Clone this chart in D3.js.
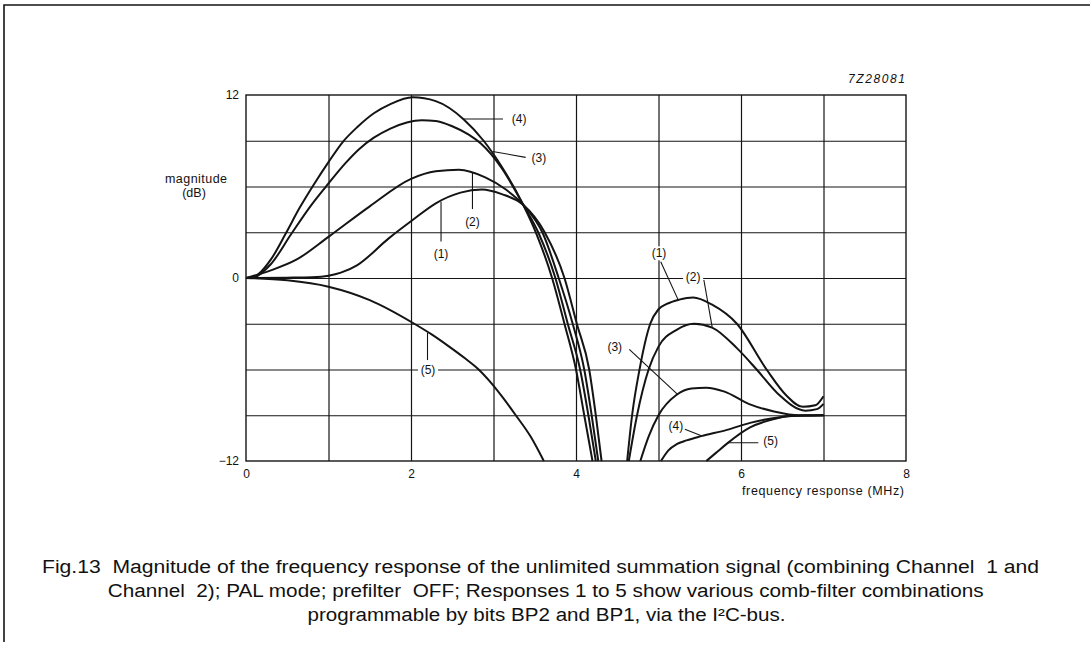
<!DOCTYPE html>
<html><head><meta charset="utf-8">
<script src="https://cdn.jsdelivr.net/npm/d3@7"></script>
<style>
html,body{margin:0;padding:0;background:#fff;}
svg{display:block;}
text{font-family:"Liberation Sans",Arial,Helvetica,sans-serif;fill:#111;white-space:pre;}
</style></head><body>
<svg id="chart" width="1090" height="654"></svg>
<script>
// ---------- data ----------
const xTickValues = [0, 2, 4, 6, 8];
const yTickValues = [12, 0, -12];
const xGridValues = [1, 2, 3, 4, 5, 6, 7];
const yGridValues = [-9, -6, -3, 0, 3, 6, 9];

// [frequency MHz, magnitude dB] — low-frequency lobe
const resp1Low = [[0,0],[0.5,0.02],[0.8,0.05],[1.0,0.15],[1.15,0.35],[1.35,0.85],[1.73,2.6],[2.02,3.8],[2.3,4.9],[2.6,5.6],[2.86,5.8],[3.1,5.5],[3.36,4.8],[3.62,3.0],[3.86,0],[4.01,-3],[4.16,-6],[4.24,-9],[4.31,-12]];
const resp2Low = [[0,0],[0.3,0.5],[0.61,1.2],[1.0,2.7],[1.5,4.7],[2.0,6.5],[2.3,7.0],[2.58,7.1],[2.9,6.6],[3.15,5.8],[3.36,4.8],[3.6,2.9],[3.79,0],[3.96,-3],[4.1,-6],[4.19,-9],[4.27,-12]];
const resp3Low = [[0,0],[0.1,0.05],[0.3,0.9],[0.55,2.9],[0.78,4.7],[1.0,6.2],[1.2,7.5],[1.37,8.45],[1.55,9.2],[1.75,9.8],[1.95,10.2],[2.13,10.35],[2.3,10.3],[2.5,9.95],[2.7,9.4],[2.85,8.8],[3.1,7.2],[3.36,4.8],[3.55,2.9],[3.75,0],[3.9,-3],[4.05,-6],[4.15,-9],[4.24,-12]];
const resp4Low = [[0,0],[0.1,0.08],[0.3,1.2],[0.48,2.9],[0.65,4.6],[0.83,6.2],[1.0,7.6],[1.17,8.9],[1.35,9.9],[1.55,10.8],[1.75,11.4],[2.02,11.85],[2.3,11.6],[2.64,10.4],[2.88,9.0],[3.1,7.3],[3.36,4.8],[3.52,2.9],[3.71,0],[3.86,-3],[4.0,-6],[4.1,-9],[4.2,-12]];
const resp5Low = [[0,0],[0.5,-0.15],[1.0,-0.57],[1.5,-1.45],[2.04,-3],[2.25,-3.7],[2.45,-4.45],[2.65,-5.25],[2.82,-6.0],[2.95,-6.75],[3.1,-7.75],[3.27,-9],[3.45,-10.4],[3.61,-12]];

// high-frequency lobe
const resp1High = [[4.62,-12],[4.68,-9],[4.77,-6],[4.9,-3],[5.0,-2.05],[5.1,-1.7],[5.25,-1.42],[5.42,-1.28],[5.65,-1.75],[5.95,-3],[6.31,-6],[6.55,-7.7],[6.75,-8.45],[6.9,-8.35],[7.0,-7.75]];
const resp2High = [[4.64,-12],[4.74,-9],[4.88,-6],[5.0,-4.5],[5.22,-3.4],[5.43,-3.0],[5.65,-3.25],[5.95,-4.6],[6.19,-6],[6.45,-7.6],[6.78,-8.7],[6.92,-8.6],[7.0,-8.25]];
const resp3High = [[4.78,-12],[4.88,-10.4],[5.0,-9],[5.22,-7.66],[5.4,-7.25],[5.58,-7.19],[5.8,-7.45],[6.1,-8.27],[6.4,-8.75],[6.7,-9.0],[7.0,-9.0]];
const resp4High = [[5.03,-12],[5.12,-11.3],[5.22,-10.9],[5.34,-10.65],[5.52,-10.37],[5.83,-9.96],[6.11,-9.5],[6.51,-9.1],[6.75,-9.02],[7.0,-9.0]];
const resp5High = [[5.58,-12],[5.7,-11.45],[5.83,-10.86],[6.11,-9.8],[6.4,-9.25],[6.6,-9.05],[7.0,-9.0]];

const curveSegments = [resp1Low, resp2Low, resp3Low, resp4Low, resp5Low,
                       resp1High, resp2High, resp3High, resp4High, resp5High];

// curve labels: text position and leader line, in data coordinates
const labelNames = ["(4)", "(3)", "(2)", "(1)", "(5)", "(1)", "(2)", "(3)", "(4)", "(5)"];
const labelAt = [[3.31,10.43],[3.55,7.91],[2.745,3.69],[2.364,1.57],[2.206,-5.99],
                 [5.006,1.62],[5.42,0.05],[4.47,-4.54],[5.21,-9.69],[6.36,-10.67]];
const leaderLines = [[[2.63,10.43],[3.115,10.43]],
                     [[2.99,8.3],[3.39,7.91]],
                     [[2.745,6.95],[2.745,4.52]],
                     [[2.364,5.0],[2.364,2.4]],
                     [[2.2,-3.6],[2.2,-5.38]],
                     [[5.027,1.07],[5.24,-1.45]],
                     [[5.55,-0.13],[5.65,-3.2]],
                     [[4.646,-4.68],[5.228,-7.62]],
                     [[5.32,-9.92],[5.52,-10.34]],
                     [[5.83,-10.8],[6.21,-10.8]]];

const captionLines = [
  "Fig.13  Magnitude of the frequency response of the unlimited summation signal (combining Channel  1 and",
  "Channel  2); PAL mode; prefilter  OFF; Responses 1 to 5 show various comb-filter combinations",
  "programmable by bits BP2 and BP1, via the I\u00B2C-bus."
];

// ---------- drawing ----------
const svg = d3.select("#chart");
const L = 246, R = 906, T = 95, B = 461;
const x = d3.scaleLinear().domain([0, 8]).range([L, R]);
const y = d3.scaleLinear().domain([-12, 12]).range([B, T]);
const ink = "#141414";

// outer frame (left and top edges)
svg.append("path").attr("d", "M4,642 L4,5 L1090,5")
  .attr("fill", "none").attr("stroke", ink).attr("stroke-width", 1.6);

// grid
const gx = svg.append("g").attr("transform", `translate(0,${B})`)
  .call(d3.axisBottom(x).tickValues(xGridValues).tickSize(-(B - T)).tickFormat(""));
gx.select(".domain").remove();
gx.selectAll("line").attr("stroke", ink).attr("stroke-width", 1.2);
const gy = svg.append("g").attr("transform", `translate(${L},0)`)
  .call(d3.axisLeft(y).tickValues(yGridValues).tickSize(-(R - L)).tickFormat(""));
gy.select(".domain").remove();
gy.selectAll("line").attr("stroke", ink).attr("stroke-width", 1.2);

// border
svg.append("rect").attr("x", L).attr("y", T).attr("width", R - L).attr("height", B - T)
  .attr("fill", "none").attr("stroke", ink).attr("stroke-width", 1.4);

// axes labels
const ax = svg.append("g").attr("transform", `translate(0,${B})`)
  .call(d3.axisBottom(x).tickValues(xTickValues).tickSize(0).tickPadding(8));
ax.select(".domain").remove();
ax.selectAll("text").attr("font-size", 12).attr("font-family", null).attr("fill", ink);
const ay = svg.append("g").attr("transform", `translate(${L},0)`)
  .call(d3.axisLeft(y).tickValues(yTickValues).tickSize(0).tickPadding(7));
ay.select(".domain").remove();
ay.selectAll("text").attr("font-size", 12).attr("font-family", null).attr("fill", ink);

// label backgrounds (interrupt grid lines)
labelAt.forEach((p) => {
  svg.append("rect").attr("x", x(p[0]) - 10).attr("y", y(p[1]) - 7)
    .attr("width", 20).attr("height", 14).attr("fill", "#fff");
});

// curves
const line = d3.line().x(d => x(d[0])).y(d => y(d[1])).curve(d3.curveMonotoneX);
svg.append("g").selectAll("path").data(curveSegments).join("path")
  .attr("d", line).attr("fill", "none").attr("stroke", ink)
  .attr("stroke-width", 2).attr("stroke-linejoin", "round");

// leaders
svg.append("g").selectAll("line").data(leaderLines).join("line")
  .attr("x1", d => x(d[0][0])).attr("y1", d => y(d[0][1]))
  .attr("x2", d => x(d[1][0])).attr("y2", d => y(d[1][1]))
  .attr("stroke", ink).attr("stroke-width", 1.1);

// label texts
svg.append("g").selectAll("text").data(labelAt).join("text")
  .attr("x", d => x(d[0])).attr("y", d => y(d[1])).attr("dy", "0.35em")
  .attr("text-anchor", "middle").attr("font-size", 12)
  .text((d, i) => labelNames[i]);

// axis titles
svg.append("text").attr("x", 196).attr("y", 183).attr("text-anchor", "middle")
  .attr("font-size", 12.5).attr("textLength", 62).attr("lengthAdjust", "spacing").text("magnitude");
svg.append("text").attr("x", 194).attr("y", 197).attr("text-anchor", "middle")
  .attr("font-size", 12.5).text("(dB)");
svg.append("text").attr("x", 904).attr("y", 495).attr("text-anchor", "end")
  .attr("font-size", 12.5).attr("textLength", 162).attr("lengthAdjust", "spacing")
  .text("frequency response (MHz)");
svg.append("text").attr("x", 905).attr("y", 83).attr("text-anchor", "end")
  .attr("font-size", 12).attr("font-style", "italic")
  .attr("textLength", 57).attr("lengthAdjust", "spacing").text("7Z28081");

// caption
const capX = [540.5, 545.7, 546.5];
const capW = [997, 876, 478];
const capY = [573, 597, 621];
svg.append("g").selectAll("text").data(captionLines).join("text")
  .attr("x", (d, i) => capX[i]).attr("y", (d, i) => capY[i])
  .attr("text-anchor", "middle").attr("font-size", 18)
  .attr("textLength", (d, i) => capW[i]).attr("lengthAdjust", "spacingAndGlyphs")
  .text(d => d);
</script>
</body></html>
